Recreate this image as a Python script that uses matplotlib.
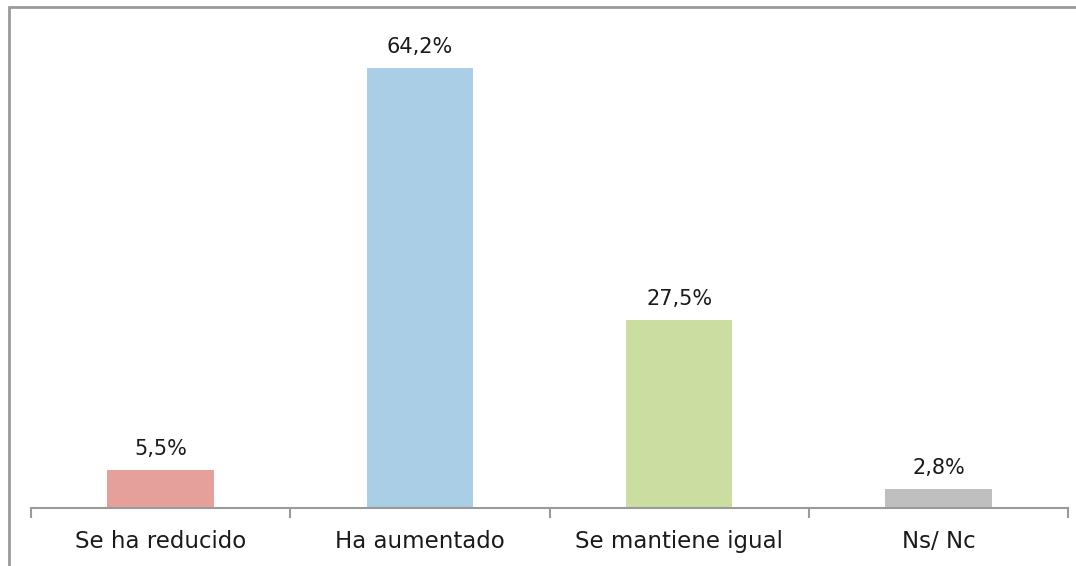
import matplotlib.pyplot as plt
from matplotlib.patches import Rectangle

categories = ['Se ha reducido', 'Ha aumentado', 'Se mantiene igual', 'Ns/ Nc']
values = [5.5, 64.2, 27.5, 2.8]
labels = ['5,5%', '64,2%', '27,5%', '2,8%']
colors = ['#E6A09C', '#A9CEE6', '#CCDDA1', '#BFBFBF']

plt.rcParams['font.family'] = ['DejaVu Sans']

W, H = 1076, 566
fig = plt.figure(figsize=(W / 100, H / 100), dpi=100)

# grey chart border, only top and left are visible in the crop
fig.patches.append(Rectangle((8.5 / W, -0.1), 1.2, 1 - 7 / H + 0.1,
                             transform=fig.transFigure, fill=False,
                             edgecolor='#9A9A9A', linewidth=2))

left, right, bottom = 31, 1068, 508
ymax = 70
scale = (bottom - 68) / 64.2
top = bottom - ymax * scale
ax = fig.add_axes([left / W, 1 - bottom / H, (right - left) / W, (bottom - top) / H])

x = range(len(categories))
ax.bar(x, values, width=0.41, color=colors)
for i, (v, lab) in enumerate(zip(values, labels)):
    ax.text(i, v + 1.6, lab, ha='center', va='bottom', fontsize=15, color='#1a1a1a')

ax.set_xlim(-0.5, len(categories) - 0.5)
ax.set_ylim(0, ymax)
ax.set_yticks([])
ax.set_xticks([i - 0.5 for i in range(len(categories) + 1)], minor=False)
ax.set_xticklabels([])
ax.set_xticks(list(x), minor=True)
ax.set_xticklabels(categories, minor=True, fontsize=16.5, color='#1a1a1a')
ax.tick_params(axis='x', which='major', length=7, width=1.5, color='#9A9A9A')
ax.tick_params(axis='x', which='minor', length=0, pad=16)
for s in ['top', 'right', 'left']:
    ax.spines[s].set_visible(False)
ax.spines['bottom'].set_color('#9A9A9A')
ax.spines['bottom'].set_linewidth(1.5)
ax.patch.set_alpha(0)

fig.savefig('out.png', dpi=100)
